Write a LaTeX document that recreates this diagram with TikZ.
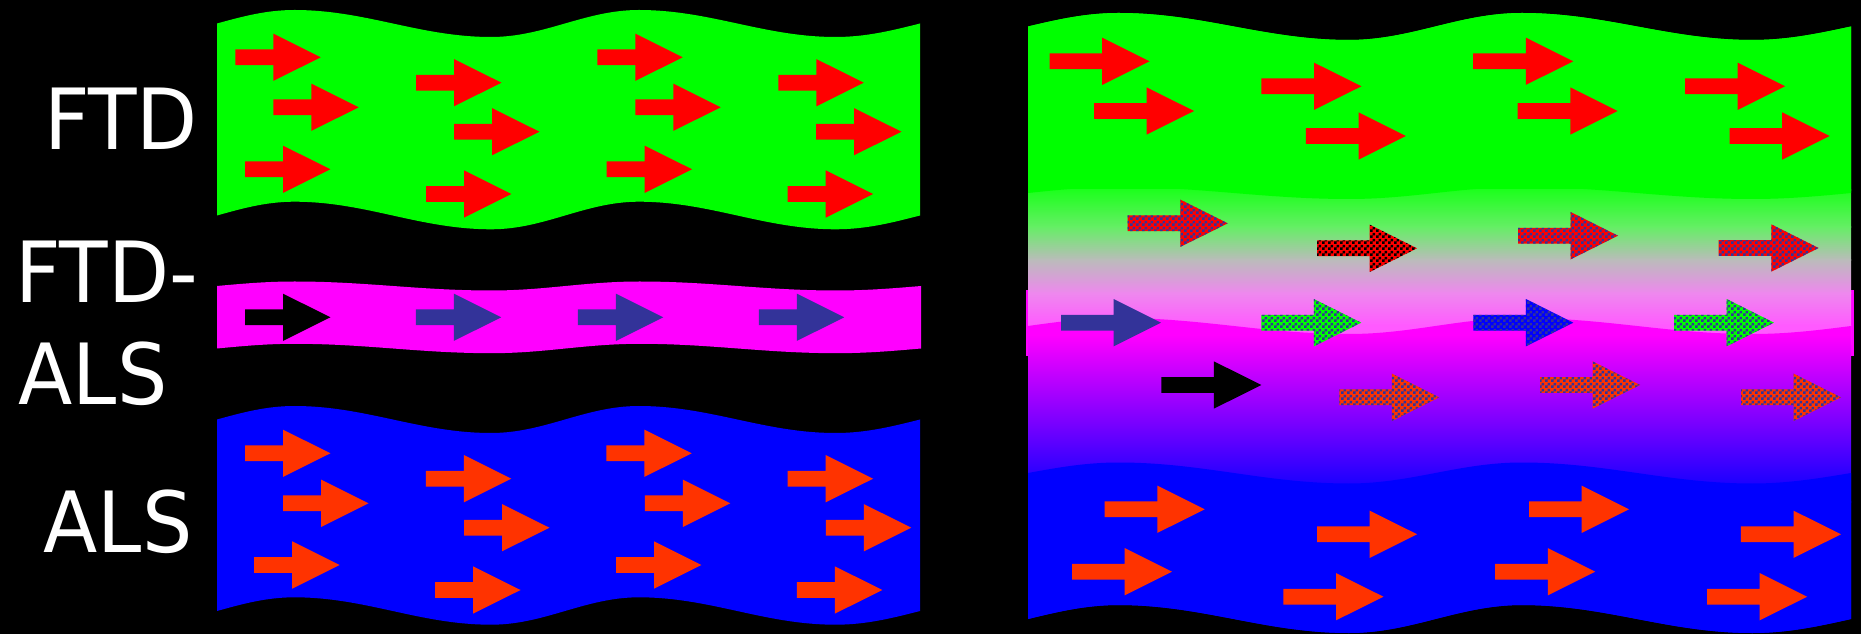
\documentclass[tikz,border=0pt]{standalone}
\usepackage{fontspec}
\setmainfont{DejaVu Sans}
\newfontfamily\lblfont{DejaVu Sans}[FakeStretch=0.94]
\usetikzlibrary{patterns}
\definecolor{grn}{RGB}{0,255,0}
\definecolor{mag}{RGB}{255,0,255}
\definecolor{blu}{RGB}{0,0,255}
\definecolor{redA}{RGB}{255,0,0}
\definecolor{oraA}{RGB}{255,51,0}
\definecolor{slate}{RGB}{51,51,153}
\definecolor{gA}{RGB}{30,255,30}
\definecolor{gB}{RGB}{102,238,102}
\definecolor{gC}{RGB}{187,187,187}
\definecolor{gD}{RGB}{238,136,238}
\definecolor{gE}{RGB}{255,90,255}
\pgfdeclarepatternformonly{chk}{\pgfqpoint{0pt}{0pt}}{\pgfqpoint{1.71pt}{1.71pt}}{\pgfqpoint{1.71pt}{1.71pt}}{%
 \pgfpathrectangle{\pgfqpoint{0pt}{0pt}}{\pgfqpoint{0.855pt}{0.855pt}}%
 \pgfpathrectangle{\pgfqpoint{0.855pt}{0.855pt}}{\pgfqpoint{0.855pt}{0.855pt}}%
 \pgfusepath{fill}}
% wave from (L,M) to (R,M): args L R M A
\newcommand\wavelr[4]{ .. controls ({#1+0.0363*(#2-#1)},{#3-0.52*#4}) and ({#1+0.0704*(#2-#1)},{#3-#4}) .. ({#1+0.11*(#2-#1)},{#3-#4})
 .. controls ({#1+0.2119*(#2-#1)},{#3-#4}) and ({#1+0.2881*(#2-#1)},{#3+#4}) .. ({#1+0.39*(#2-#1)},{#3+#4})
 .. controls ({#1+0.4664*(#2-#1)},{#3+#4}) and ({#1+0.5236*(#2-#1)},{#3-#4}) .. ({#1+0.60*(#2-#1)},{#3-#4})
 .. controls ({#1+0.7019*(#2-#1)},{#3-#4}) and ({#1+0.7781*(#2-#1)},{#3+#4}) .. ({#1+0.88*(#2-#1)},{#3+#4})
 .. controls ({#1+0.9232*(#2-#1)},{#3+#4}) and ({#1+0.9604*(#2-#1)},{#3+0.52*#4}) .. ({#2},{#3})}
% same wave traversed from (R,M) to (L,M)
\newcommand\waverl[4]{ .. controls ({#1+0.9604*(#2-#1)},{#3+0.52*#4}) and ({#1+0.9232*(#2-#1)},{#3+#4}) .. ({#1+0.88*(#2-#1)},{#3+#4})
 .. controls ({#1+0.7781*(#2-#1)},{#3+#4}) and ({#1+0.7019*(#2-#1)},{#3-#4}) .. ({#1+0.60*(#2-#1)},{#3-#4})
 .. controls ({#1+0.5236*(#2-#1)},{#3-#4}) and ({#1+0.4664*(#2-#1)},{#3+#4}) .. ({#1+0.39*(#2-#1)},{#3+#4})
 .. controls ({#1+0.2881*(#2-#1)},{#3+#4}) and ({#1+0.2119*(#2-#1)},{#3-#4}) .. ({#1+0.11*(#2-#1)},{#3-#4})
 .. controls ({#1+0.0704*(#2-#1)},{#3-#4}) and ({#1+0.0363*(#2-#1)},{#3-0.52*#4}) .. ({#1},{#3})}
% band: style, L, R, Mtop, Atop, Mbottom, Abottom
\newcommand\band[7][]{\fill[#1] ({#2},{#4}) \wavelr{#2}{#3}{#4}{#5} -- ({#3},{#6}) \waverl{#2}{#3}{#6}{#7} -- cycle;}
% arrow: style, tail x, centre y, shaft length
\newcommand\arr[4][]{\path[#1] ({#2},{#3-7.9}) -- ({#2+#4},{#3-7.9}) -- ({#2+#4},{#3-23.65}) -- ({#2+#4+47.4},{#3}) -- ({#2+#4},{#3+23.65}) -- ({#2+#4},{#3+7.9}) -- ({#2},{#3+7.9}) -- cycle;}
\newcommand\chkarr[5]{\arr[fill=#1]{#3}{#4}{#5}\arr[pattern=chk,pattern color=#2]{#3}{#4}{#5}}
\tikzset{lbl/.style={text=white,inner sep=0pt,font=\lblfont\fontsize{24}{29}\selectfont}}
\begin{document}
\begin{tikzpicture}[x=0.01cm,y=-0.01cm]
\useasboundingbox (0,0) rectangle (1861,634);
\fill[black] (0,0) rectangle (1861,634);
% ---------- left panel ----------
\band[grn]{217}{920}{23.5}{13.5}{215.5}{13.8}
\band[mag]{217}{921}{286}{4.5}{348.5}{4.7}
\band[blu]{217}{920}{419.5}{13.5}{611}{13.7}
% green arrows
\foreach \t/\c in {235.3/57.3, 273.3/107.3, 245/169.3, 416/82.7, 454/131.7, 426/194,
  597.3/57.3, 635.3/107.3, 606.7/169.3, 778.3/82.7, 816/131.7, 787.7/194}
  {\arr[fill=redA]{\t}{\c}{38}}
% magenta arrows
\arr[fill=black]{245}{317.3}{38}
\foreach \t in {415.8, 577.9, 758.8} {\arr[fill=slate]{\t}{317.3}{38}}
% blue arrows
\foreach \t/\c in {245/453.3, 283.1/503.3, 254.2/565, 425.9/478.7, 464/527.7, 435.1/590,
  606.3/453.3, 644.9/503.3, 616/565, 787.7/478.7, 825.8/527.7, 796.9/590}
  {\arr[fill=oraA]{\t}{\c}{38}}
% ---------- right panel ----------
\fill[mag] (1025.5,290) rectangle (1853.5,356);
\begin{scope}
  \clip (1028,26.5) \wavelr{1028}{1851}{26.5}{13.5} -- (1851,619) \waverl{1028}{1851}{619}{14} -- cycle;
  \fill[grn] (1020,0) rectangle (1860,191);
  \shade[top color=gA,bottom color=gB] (1020,190) rectangle (1860,227.5);
  \shade[top color=gB,bottom color=gC] (1020,227) rectangle (1860,260.5);
  \shade[top color=gC,bottom color=gD] (1020,260) rectangle (1860,293.5);
  \shade[top color=gD,bottom color=gE] (1020,293) rectangle (1860,325.5);
  \fill[gE] (1020,325) rectangle (1860,345);
  \fill[grn] (1028,0) -- (1028,193) \wavelr{1028}{1851}{193}{6} -- (1851,0) -- cycle;
  \begin{scope}
    \clip (1028,326) \wavelr{1028}{1851}{326}{8} -- (1851,640) -- (1028,640) -- cycle;
    \fill[mag] (1020,300) rectangle (1860,336);
    \shade[top color=mag,bottom color=blu] (1020,335) rectangle (1860,502);
    \fill[blu] (1020,501) rectangle (1860,640);
  \end{scope}
  \fill[blu] (1028,473) \wavelr{1028}{1851}{473}{10.5} -- (1851,640) -- (1028,640) -- cycle;
\end{scope}
% right green arrows
\foreach \t/\c in {1049.5/61.3, 1094/111, 1261.4/86.3, 1305.9/136,
  1473.2/61.3, 1517.7/111, 1685.1/86.3, 1729.6/136}
  {\arr[fill=redA]{\t}{\c}{52.6}}
% right middle arrows
\chkarr{redA}{slate}{1127.7}{223.3}{52.6}
\chkarr{redA}{black}{1317}{248.3}{52.6}
\arr[fill=slate]{1061}{322.7}{52.6}
\chkarr{grn}{slate}{1261.3}{322.7}{52.6}
\arr[fill=black]{1161.3}{385}{52.6}
\chkarr{oraA}{slate}{1339.3}{397.3}{52.6}
\chkarr{redA}{slate}{1518}{235.7}{52.6}
\chkarr{redA}{slate}{1718.7}{248}{52.6}
\chkarr{blu}{slate}{1473.3}{322.7}{52.6}
\chkarr{grn}{slate}{1674}{322.7}{52.6}
\chkarr{oraA}{slate}{1540}{385}{52.6}
\chkarr{oraA}{slate}{1741}{397.3}{52.6}
% right blue arrows
\foreach \t/\c in {1104.7/509.3, 1072/571.7, 1317.1/534.3, 1283.4/596.7,
  1529/509.3, 1495.2/571.7, 1740.9/534.3, 1707.1/596.7}
  {\arr[fill=oraA]{\t}{\c}{52.6}}
% ---------- labels ----------
\node[lbl,anchor=base west] (ftd) at (43.5,150) {FTD};
\node[lbl,anchor=base west] (ftdalsA) at (15,303) {FTD-};
\node[lbl,anchor=base west] (ftdalsB) at (18,405) {ALS};
\node[lbl,anchor=base west] (als) at (43,552) {ALS};
\end{tikzpicture}
\end{document}
